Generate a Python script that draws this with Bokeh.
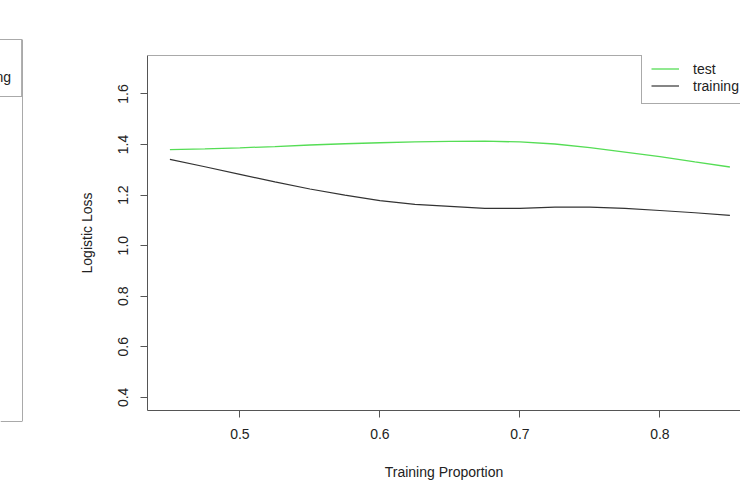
from bokeh.plotting import figure
from bokeh.models import Range1d, Span, Legend, LegendItem, FixedTicker
from bokeh.layouts import row
from bokeh.embed import file_html
from bokeh.resources import INLINE

# ---- data ----
proportion = [0.45, 0.475, 0.50, 0.525, 0.55, 0.575, 0.60, 0.625, 0.65,
              0.675, 0.70, 0.725, 0.75, 0.775, 0.80, 0.825, 0.85]
test_loss = [1.380, 1.383, 1.387, 1.392, 1.398, 1.403, 1.407, 1.410, 1.412,
             1.413, 1.410, 1.402, 1.388, 1.370, 1.352, 1.331, 1.311]
train_loss = [1.341, 1.312, 1.282, 1.252, 1.224, 1.200, 1.178, 1.163, 1.155,
              1.147, 1.147, 1.152, 1.152, 1.147, 1.139, 1.130, 1.120]
x_ticks = [0.5, 0.6, 0.7, 0.8]
x_tick_labels = ["0.5", "0.6", "0.7", "0.8"]
y_ticks = [0.4, 0.6, 0.8, 1.0, 1.2, 1.4, 1.6]
y_tick_labels = ["0.4", "0.6", "0.8", "1.0", "1.2", "1.4", "1.6"]
series_names = ["test", "training"]

FONT = "Liberation Sans"
TXT = "#222222"
BOX = "#555555"
GREEN = "#55dd55"
BLACK = "#333333"

H = 482
LW = 23                 # width of the visible sliver of the left panel
W = 740 - LW            # main panel width
FL, FT, FB = 147, 55, 69
FH = H - FT - FB


def legend_style(lg, row_h, pad):
    lg.border_line_color = BOX
    lg.border_line_width = 1
    lg.background_fill_color = "white"
    lg.background_fill_alpha = 1
    lg.padding = pad
    lg.spacing = 0
    lg.margin = 0
    lg.label_height = row_h
    lg.glyph_height = row_h
    lg.glyph_width = 28
    lg.label_standoff = 14
    lg.label_text_font = FONT
    lg.label_text_font_size = "14px"
    lg.label_text_color = TXT


# ---- neighbouring panel (only its right edge is in the picture) ----
pl = figure(width=LW, height=H, output_backend="svg", toolbar_location=None,
            x_range=Range1d(0, 1), y_range=Range1d(0, 1),
            x_axis_location=None, y_axis_location=None,
            min_border_left=0, min_border_right=1,
            min_border_top=39, min_border_bottom=H - 421)
pl.frame_align = False
pl.outline_line_color = None
pl.xgrid.visible = False
pl.ygrid.visible = False
lr1 = pl.line(x=[], y=[], line_color=GREEN, line_width=1.3)
lr2 = pl.line(x=[], y=[], line_color=BLACK, line_width=1.2)
lleg = Legend(items=[LegendItem(label=series_names[0], renderers=[lr1]),
                     LegendItem(label=series_names[1], renderers=[lr2])],
              location="top_right")
legend_style(lleg, 18, 10)
pl.add_layout(lleg)
for sp in [Span(location=1, dimension="height"),
           Span(location=0, dimension="width"),
           Span(location=1, dimension="width")]:
    sp.line_color = BOX
    sp.line_width = 1
    pl.add_layout(sp)

# ---- main panel ----
x_start = 0.434
x_end = x_start + (LW + W - FL) / 1400.0
y_start, y_end = 0.348, 1.752

p = figure(width=W, height=H, output_backend="svg", toolbar_location=None,
           x_range=Range1d(x_start, x_end), y_range=Range1d(y_start, y_end),
           min_border_left=FL - LW, min_border_right=0,
           min_border_top=FT, min_border_bottom=FB)
p.frame_align = False
p.outline_line_color = None
p.xgrid.visible = False
p.ygrid.visible = False
p.background_fill_color = "white"

r_test = p.line(proportion, test_loss, line_color=GREEN, line_width=1.3)
r_train = p.line(proportion, train_loss, line_color=BLACK, line_width=1.2)

top = Span(location=y_end, dimension="width", line_color=BOX, line_width=1)
p.add_layout(top)

for ax in (p.xaxis[0], p.yaxis[0]):
    ax.axis_line_color = BOX
    ax.axis_line_width = 1
    ax.major_tick_line_color = BOX
    ax.major_tick_out = 7
    ax.major_tick_in = 0
    ax.minor_tick_line_color = None
    ax.major_label_text_font = FONT
    ax.major_label_text_font_size = "14px"
    ax.major_label_text_color = TXT
    ax.axis_label_text_font = FONT
    ax.axis_label_text_font_size = "14px"
    ax.axis_label_text_font_style = "normal"
    ax.axis_label_text_color = TXT

p.xaxis.ticker = FixedTicker(ticks=x_ticks)
p.xaxis.major_label_overrides = dict(zip(x_ticks, x_tick_labels))
p.xaxis.axis_label = "Training Proportion"
p.xaxis.major_label_standoff = 11
p.xaxis.axis_label_standoff = 22

p.yaxis.ticker = FixedTicker(ticks=y_ticks)
p.yaxis.major_label_overrides = dict(zip(y_ticks, y_tick_labels))
p.yaxis.major_label_orientation = "vertical"
p.yaxis.axis_label = "Logistic Loss"
p.yaxis.major_label_standoff = 12
p.yaxis.axis_label_standoff = 21

MAIN_ROW, MAIN_PAD = 17, 9
leg = Legend(items=[LegendItem(label=series_names[0], renderers=[r_test]),
                    LegendItem(label=series_names[1], renderers=[r_train])],
             location=(494, FH - (2 * MAIN_PAD + 2 * MAIN_ROW)))
legend_style(leg, MAIN_ROW, MAIN_PAD)
p.add_layout(leg)

layout = row(pl, p, spacing=0)
open("out.html", "w").write(file_html(layout, INLINE))
